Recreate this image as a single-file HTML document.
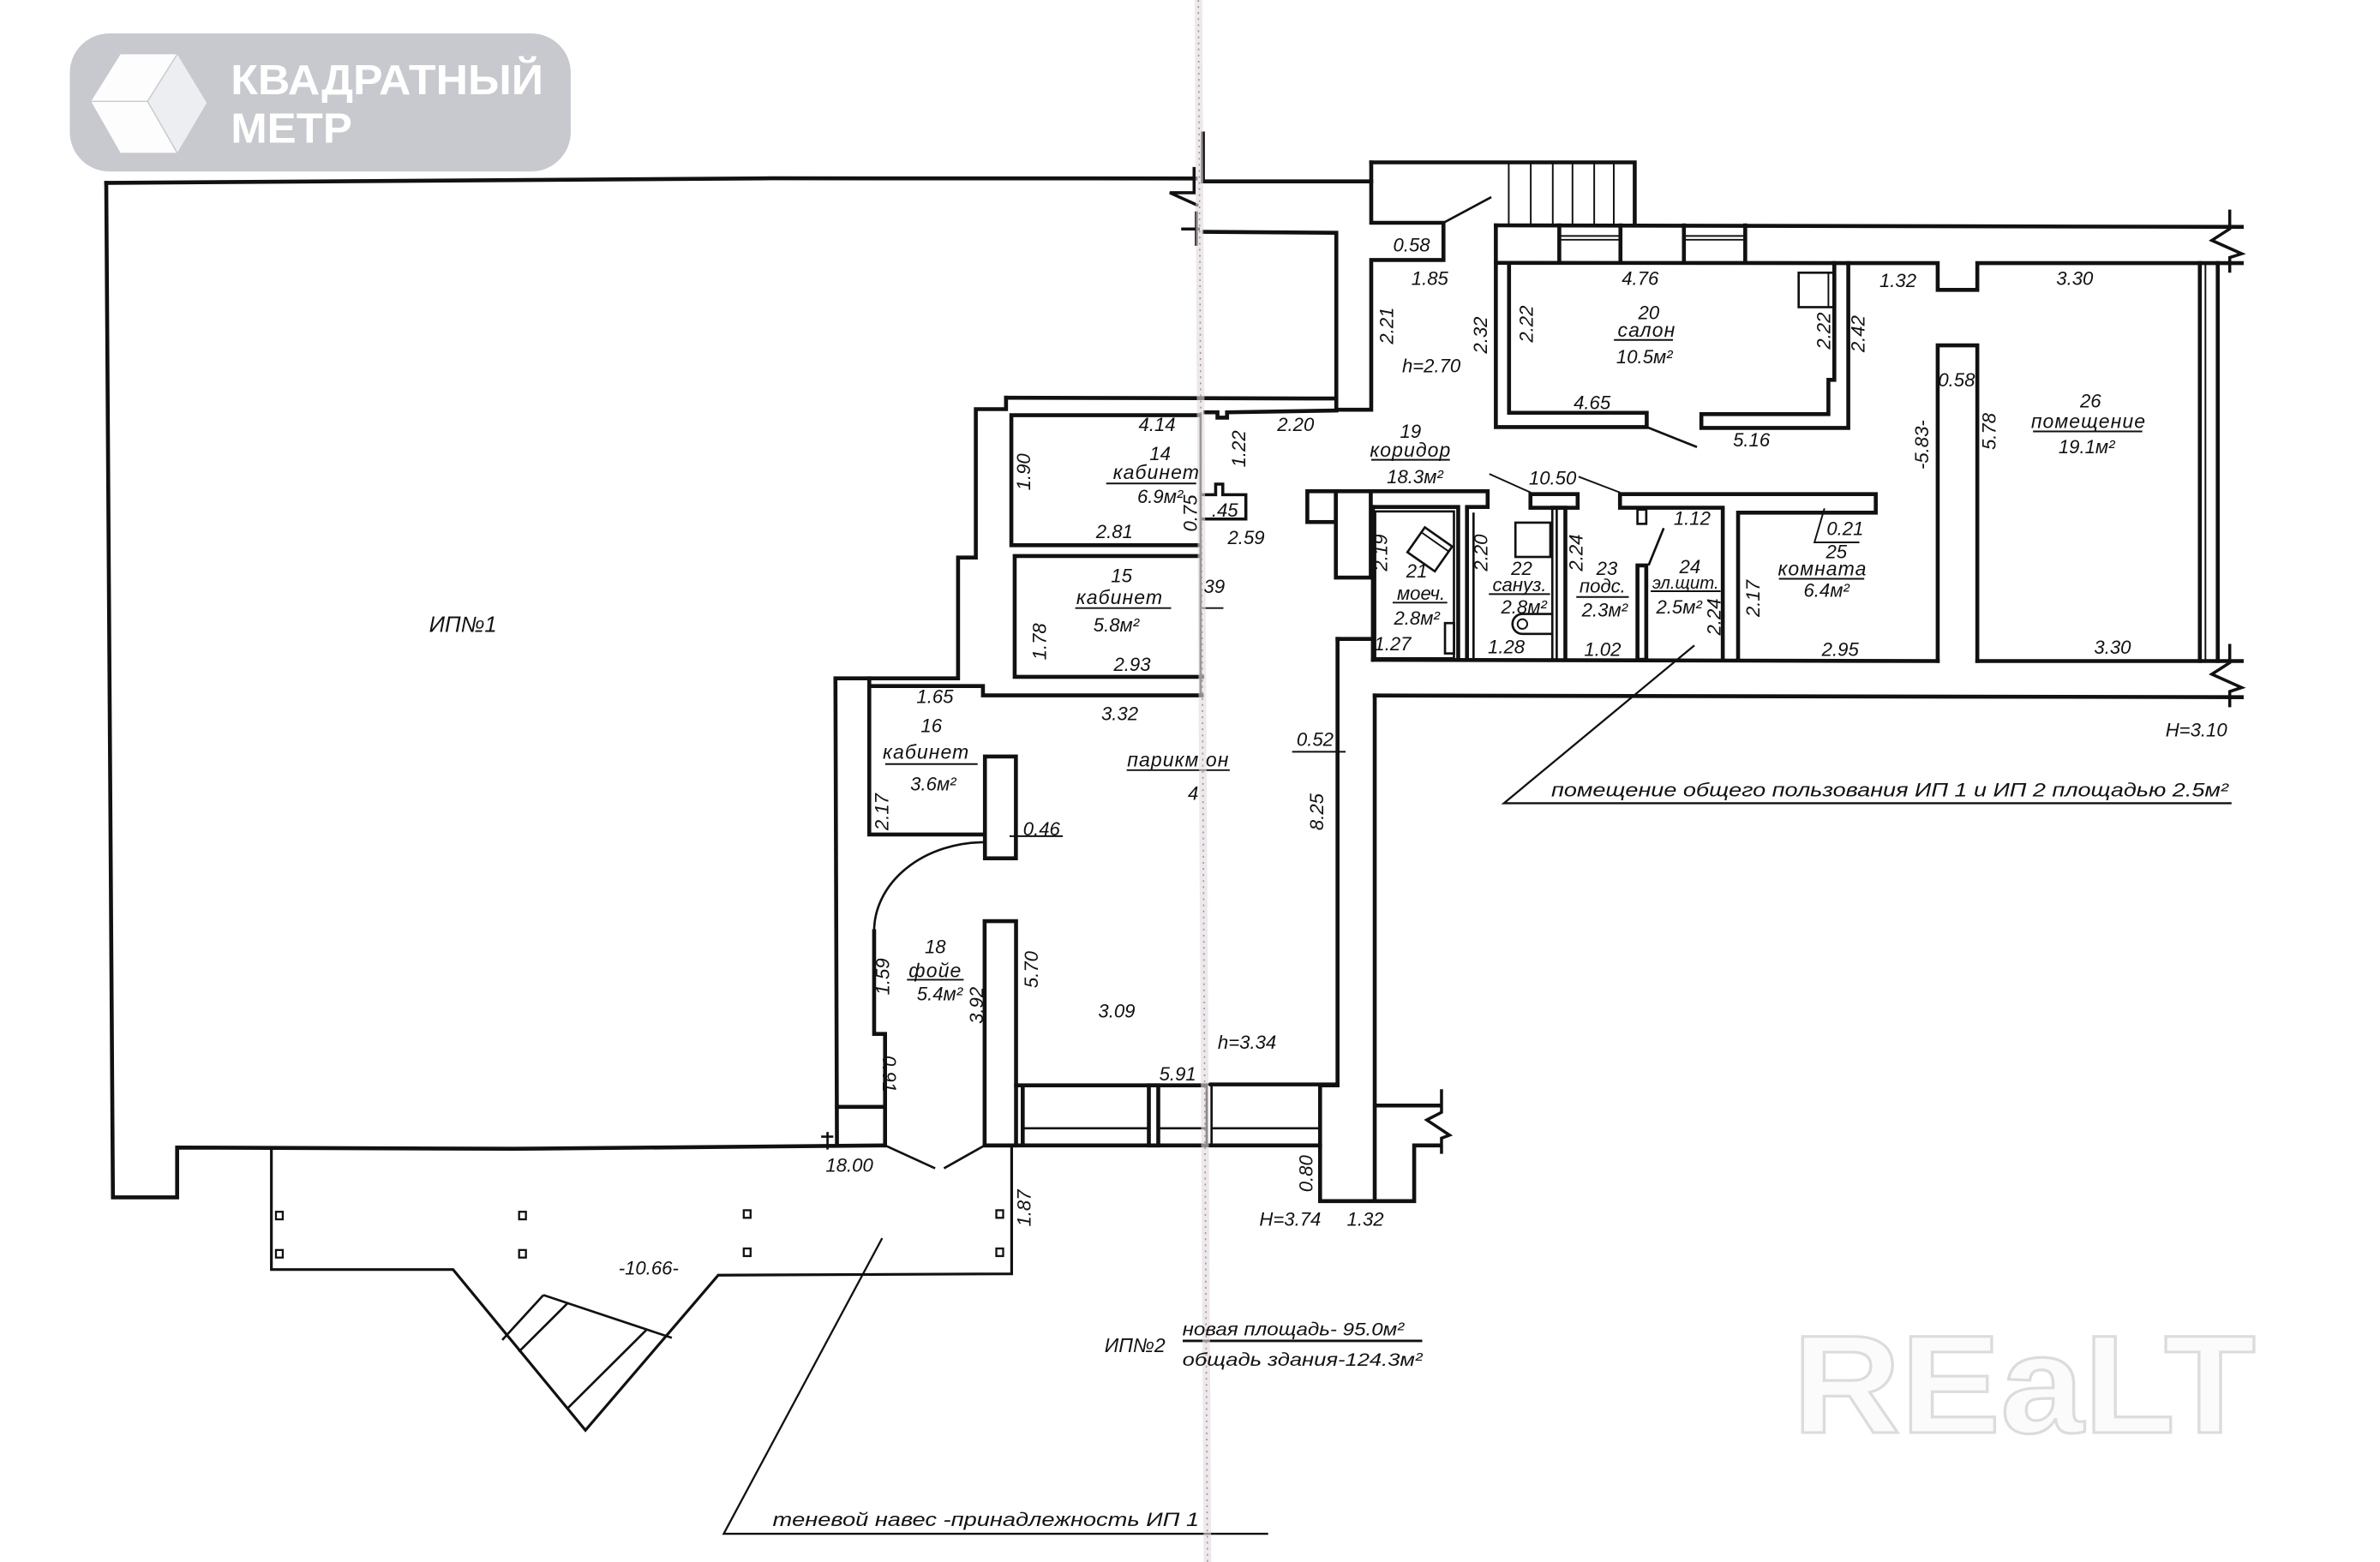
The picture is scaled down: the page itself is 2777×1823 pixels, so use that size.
<!DOCTYPE html>
<html><head><meta charset="utf-8"><style>
html,body{margin:0;padding:0;background:#fff;overflow:hidden}
svg{display:block}
.w{fill:none;stroke:#111;stroke-width:2.6;stroke-linejoin:miter;stroke-linecap:square}
.t{fill:none;stroke:#111;stroke-width:1.5}
.h{fill:none;stroke:#111;stroke-width:1.1}
text{font-family:"Liberation Sans","DejaVu Sans",sans-serif;font-style:italic;fill:#111;font-size:12.5px}
.c{text-anchor:middle;dominant-baseline:central}
.r{font-size:13px;letter-spacing:0.6px}
</style></head><body>
<svg width="2777" height="1823" viewBox="0 0 1568 1029.3" preserveAspectRatio="none" xmlns="http://www.w3.org/2000/svg">
<rect x="0" y="0" width="1568" height="1029.3" fill="#fff"/>

<!-- logo -->
<rect x="46" y="22" width="330" height="91" rx="26" fill="#c7c9ce"/>
<polygon points="79.4,35.8 116.7,35.8 136.1,67.8 116.7,100.7 79.4,100.7 60,66.8" fill="#fdfdfd"/>
<polygon points="116.7,35.8 136.1,67.8 116.7,100.7 97.2,66.8" fill="#eceef1"/>
<path d="M60,66.8 L97.2,66.8 L116.7,35.8 M97.2,66.8 L116.7,100.7" fill="none" stroke="#c7c9ce" stroke-width="0.8"/>
<text x="152" y="62" style="font-style:normal;font-weight:bold;font-size:27.5px;fill:#fff" textLength="206" lengthAdjust="spacingAndGlyphs">КВАДРАТНЫЙ</text>
<text x="152" y="94" style="font-style:normal;font-weight:bold;font-size:27.5px;fill:#fff" textLength="80" lengthAdjust="spacingAndGlyphs">МЕТР</text>

<!-- REALT watermark -->
<text x="1181" y="944" style="font-style:normal;font-weight:bold;font-size:92px;fill:#fbfbfb;stroke:#dcdcdc;stroke-width:1.8" textLength="305" lengthAdjust="spacingAndGlyphs">REaLT</text>

<!-- big left box ИП1 -->
<path class="w" d="M70,120.5 L508,117.5 L787.7,117.6"/>
<path class="w" d="M70,120.5 L74.4,789 L116.7,789 L116.7,756.2 L338.8,757 L583.1,754.8"/>
<!-- break at fold top -->
<path class="t" style="stroke-width:2" d="M786.7,110 L786.7,127 L770.7,127 L789.5,135.5 M788.2,139.3 L788.2,162 M778.2,150.9 L790.5,150.9"/>

<!-- top entrance / stairs -->
<path class="w" d="M792.5,88 L792.5,119.5 L903.4,119.5 M903.4,107 L1077,107 L1077,148.3"/>
<path class="w" d="M903.4,107 L903.4,146.8 L951,146.8 L951,171.3 L903.4,171.3 L903.4,270 L880.4,270 L880.4,153.4 L793.3,152.8"/>
<path class="h" d="M994,107 V148.3 M1008.5,107 V148.3 M1023,107 V148.3 M1036,107 V148.3 M1050.3,107 V148.3 M1063.2,107 V148.3"/>
<path class="t" d="M951,146.8 L982.5,129.9"/>

<!-- top wall band -->
<path class="w" d="M985.5,148.5 L1476.9,149.5"/>
<path class="w" d="M985.5,173.2 L1276.6,173.4 L1276.6,191 L1302.7,191 L1302.7,173.4 L1476.9,173.4"/>
<path class="w" d="M1027.3,148.5 V173.2 M1067.6,148.5 V173.2 M1109.4,148.5 V173.2 M1149.8,148.5 V173.2"/>
<path class="h" d="M1027.3,155.5 H1067.6 M1027.3,158 H1067.6 M1109.4,155.5 H1149.8 M1109.4,158 H1149.8"/>

<!-- salon -->
<path class="w" d="M985.5,148.5 L985.5,281.4 L1084.9,281.4 L1084.9,272 L994.2,272 L994.2,173.2"/>
<path class="w" d="M1208.5,173.4 L1208.5,250.3 L1204.6,250.3 L1204.6,272.9 L1120.9,272.9 L1120.9,282 L1217.7,282 L1217.7,173.4"/>
<path class="t" d="M1084.9,281.4 L1118,294.6"/>
<rect class="t" x="1185" y="179.7" width="23.5" height="22.7"/>
<path class="h" d="M1204.6,179.7 V202.4"/>

<!-- right room 26 -->
<path class="w" d="M1276.6,435.6 L1276.6,227.6 L1302.7,227.6 L1302.7,435.6"/>
<path class="w" d="M904.5,434.8 L1276.6,435.6 M1302.7,435.6 L1476.9,435.6"/>
<path class="w" d="M1449.3,173.4 V435.6 M1461.1,173.4 V435.6"/>
<path class="h" d="M1453,173.4 V435.6"/>
<path class="w" d="M905.7,458.3 L1476.9,459.4"/>
<path class="t" style="stroke-width:2" d="M1469,138.1 L1469,150.8 L1457.2,158.4 L1476.9,167.2 L1469,169.7 L1469,179.7"/>
<path class="t" style="stroke-width:2" d="M1469,424.3 L1469,436.7 L1457.2,444.3 L1476.9,453.1 L1469,455.7 L1469,466"/>

<!-- corridor top walls & small rooms -->
<path class="w" d="M1067.3,334.6 L1067.3,325.6 L1235.8,325.6 L1235.8,337.8 L1145.1,337.8 L1145.1,434.8 M1067.3,334.6 L1135,334.6 L1135,434.8"/>
<rect class="w" x="1008.3" y="325.6" width="31.1" height="9"/>
<path class="w" d="M903.1,323.7 L980.1,323.7 L980.1,334.1 L966.5,334.1 L966.5,434.8 M904.5,334.1 L960.7,334.1 L960.7,434.8"/>
<rect class="t" x="906" y="337" width="51.9" height="96.8"/>
<path class="t" d="M970.8,337.8 V434"/>
<path class="t" d="M1022.7,334.6 V434.8 M1025.6,334.6 V434.8"/>
<path class="w" d="M1022.7,334.6 L1031.3,334.6 L1031.3,434.8"/>
<rect class="w" x="1078.8" y="372.6" width="5.8" height="62.2"/>
<rect class="t" x="1078.8" y="335.8" width="5.8" height="9.4"/>
<path class="t" d="M1096.1,348 L1086.1,372.6"/>
<rect class="w" x="861.3" y="323.7" width="18.8" height="20.3"/>
<rect class="w" x="880.1" y="323.7" width="23" height="56.9"/>
<path class="w" d="M904.5,334.1 L904.5,434.8 M881.2,421 L904.5,421"/>
<!-- fixtures -->
<g transform="rotate(35 942 362)"><rect class="t" x="931" y="352" width="22" height="20"/><path class="h" d="M931,356 H953"/></g>
<rect class="t" x="952" y="410.6" width="6" height="20"/>
<rect class="t" x="998.4" y="344.4" width="23" height="22.6"/>
<path class="t" d="M1022,404.6 L1003,404.6 A6.5,6.5 0 0 0 1003,417.7 L1022,417.7"/>
<circle class="h" cx="1003" cy="411.2" r="3.2"/>

<!-- right corridor / lower right -->
<path class="w" d="M869.7,715.2 L881.2,715.2 L881.2,421"/>
<path class="w" d="M905.7,458.3 L905.7,791.5 M869.7,715.2 L869.7,791.5 L931.7,791.5 L931.7,754.8 L948,754.8 M905.7,728.5 L948,728.5"/>
<path class="t" style="stroke-width:2" d="M949.7,717.8 L949.7,733 L940,738 L955,748 L949.7,750 L949.7,760.3"/>

<!-- storefront -->
<path class="w" d="M669.4,715.2 L793.4,715.2 M797.9,714.6 L881.2,714.6 M673.8,715.2 L673.8,754.8 M648.7,754.8 L869.7,754.8"/>
<path class="t" d="M673.8,743.5 H756.9 M763.1,743.5 H795 M798,743.5 H869.7"/>
<rect class="w" x="756.9" y="715.2" width="6.2" height="39.6"/>
<rect class="t" x="795" y="714.6" width="3.2" height="40.2"/>

<!-- pillars -->
<rect class="w" x="648.9" y="498.5" width="20.4" height="67.1"/>
<rect class="w" x="648.7" y="607" width="20.7" height="147.8"/>

<!-- IP2 left contour & rooms 14,15,16 -->
<path class="w" d="M662.8,262.1 L880.4,262.6"/>
<path class="w" d="M662.8,262.1 L662.8,269.6 L642.9,269.6 L642.9,367.4 L631.2,367.4 L631.2,447 L550.4,447 L551.4,754.8"/>
<path class="w" d="M790.4,273.6 L666.3,273.6 L666.3,359.3 L790.4,359.3"/>
<path class="w" d="M790.4,366.4 L668.5,366.4 L668.5,446 L792,446"/>
<path class="t" style="stroke:#333" d="M791,271.7 V458.2"/>
<path class="w" d="M794,271.7 L802.1,271.7 L802.1,275.2 L808.4,275.2 L808.4,271.7 L880.4,270.5"/>
<path class="w" style="stroke-width:2" d="M792.7,326 L800.9,326 L800.9,319 L805.6,319 L805.6,326 L820.8,326 L820.8,342 L792.7,342"/>
<path class="w" d="M572.7,447 L572.7,549.9 L647.6,549.9 M572.7,452.1 L647.6,452.1 L647.6,458.2 L791.7,458.2"/>

<!-- foyer -->
<path class="w" d="M575.9,613.6 L575.9,681.3 L583.1,681.3 L583.1,754.8 M551.4,729.4 L583.1,729.4"/>
<path class="t" d="M575.9,613.6 A72.6,58.6 0 0 1 648.5,555"/>
<path class="t" d="M583.1,754.8 L616.1,769.9 M621.9,769.9 L648.7,754.8"/>
<path class="t" d="M545.2,745.9 V757.5 M541,749 L549,749"/>

<!-- canopy -->
<path class="t" style="stroke-width:1.8" d="M178.8,756.5 L178.8,836.6 L298.5,836.6 L385.7,942.5 L473.2,840.3 L666.5,839.4 L666.5,754.8"/>
<path class="t" d="M358,853.4 L442.6,881.6 M358,853.4 L330.9,883 M374.2,858.5 L341.8,890.8 M426.4,875.8 L374.2,927.8"/>
<g class="t" style="stroke-width:1.3">
<rect x="181.8" y="798.5" width="4.5" height="5"/><rect x="181.8" y="823.7" width="4.5" height="5"/>
<rect x="342" y="798.5" width="4.5" height="5"/><rect x="342" y="823.7" width="4.5" height="5"/>
<rect x="490" y="797.5" width="4.5" height="5"/><rect x="490" y="822.7" width="4.5" height="5"/>
<rect x="656.4" y="797.5" width="4.5" height="5"/><rect x="656.4" y="822.7" width="4.5" height="5"/>
</g>

<!-- leaders & underlines -->
<path class="h" d="M981.2,312.3 L1008.6,324.6 M1040,314.1 L1067.4,324.6"/>
<path class="h" d="M1202,335 L1195.4,357.4 L1225,357.4"/>
<path class="h" style="stroke-width:1.3" d="M1116.3,425.3 L990.8,529.3 L1470.2,529.3"/>
<path class="h" style="stroke-width:1.3" d="M581.2,815.9 L476.8,1010.7 L835.5,1010.7"/>
<path class="h" style="stroke-width:1.6" d="M779.2,883.6 L937,883.6"/>
<path class="h" d="M851.3,495.4 H886.5 M665.1,551 H700.2 M792,400.7 H806"/>
<path class="h" d="M1063.3,224 H1102.2 M1339.4,284.3 H1411.4 M1172,381.4 H1228.2 M728.8,318.6 H788.1 M708.4,400.7 H771.6 M583.2,503.5 H644.1 M742.3,507.5 H810.2 M903.4,303 H955.2 M917.5,397.1 H953.5 M980.9,391.5 H1021.2 M1038.5,393.4 H1073.1 M1087.5,389.6 H1133.6 M597.5,645.6 H634.9"/>

<!-- fold -->
<line x1="789.5" y1="0" x2="795.5" y2="1029.3" stroke="#e2d9df" stroke-width="5" opacity="0.6"/>
<line x1="789.5" y1="0" x2="795.5" y2="1029.3" stroke="#a3969f" stroke-width="0.9" stroke-dasharray="1.2 2.8"/>

<!-- horizontal labels -->
<g class="c">
<text class="c" x="930" y="161.5">0.58</text>
<text class="c" x="942" y="183.5">1.85</text>
<text class="c" x="943" y="241">h=2.70</text>
<text class="c" x="1080.6" y="183.5">4.76</text>
<text class="c" x="1086.3" y="206">20</text>
<text class="c r" x="1084.9" y="217.3">салон</text>
<text class="c" x="1083.4" y="235.3">10.5м²</text>
<text class="c" x="1048.9" y="265.3">4.65</text>
<text class="c" x="1153.9" y="289.8">5.16</text>
<text class="c" x="1250.4" y="184.8">1.32</text>
<text class="c" x="1366.9" y="183.5">3.30</text>
<text class="c" x="1289" y="250.3">0.58</text>
<text class="c" x="1377.3" y="264.2">26</text>
<text class="c r" x="1376" y="277.5">помещение</text>
<text class="c" x="1374.7" y="294.4">19.1м²</text>
<text class="c" x="1215.6" y="348.5">0.21</text>
<text class="c" x="1209.9" y="363.7">25</text>
<text class="c r" x="1200.7" y="374.5">комната</text>
<text class="c" x="1203.3" y="388.9">6.4м²</text>
<text class="c" x="1212.4" y="428">2.95</text>
<text class="c" x="1391.8" y="426.7">3.30</text>
<text class="c" x="1447" y="481">H=3.10</text>
<text class="c" x="762.3" y="279.7">4.14</text>
<text class="c" x="853.6" y="279.7">2.20</text>
<text class="c" x="764.3" y="298.9">14</text>
<text class="c r" x="761.9" y="311">кабинет</text>
<text class="c" x="764.3" y="327.1">6.9м²</text>
<text class="c" x="807" y="336.1">.45</text>
<text class="c" x="734.2" y="350.3">2.81</text>
<text class="c" x="821" y="354.4">2.59</text>
<text class="c" x="929.3" y="284.2">19</text>
<text class="c r" x="929.3" y="296.4">коридор</text>
<text class="c" x="932.2" y="314.3">18.3м²</text>
<text class="c" x="1022.9" y="315.2">10.50</text>
<text class="c" x="738.9" y="379.5">15</text>
<text class="c r" x="737.7" y="393.6">кабинет</text>
<text class="c" x="735.4" y="411.8">5.8м²</text>
<text class="c" x="800" y="386.5">39</text>
<text class="c" x="745.9" y="438">2.93</text>
<text class="c" x="933.4" y="376.4">21</text>
<text class="c" x="936.2" y="391">моеч.</text>
<text class="c" x="933.4" y="407.5">2.8м²</text>
<text class="c" x="1002.5" y="374.5">22</text>
<text class="c" x="1001.1" y="385.3">сануз.</text>
<text class="c" x="1004" y="400">2.8м²</text>
<text class="c" x="1058.7" y="374.5">23</text>
<text class="c" x="1055.8" y="386.3">подс.</text>
<text class="c" x="1057.2" y="401.9">2.3м²</text>
<text class="c" x="1114.8" y="341.6">1.12</text>
<text class="c" x="1113.4" y="373.6">24</text>
<text class="c" x="1110.5" y="384.4" style="font-size:11.5px">эл.щит.</text>
<text class="c" x="1106.2" y="400">2.5м²</text>
<text class="c" x="917.5" y="424.4">1.27</text>
<text class="c" x="992.4" y="426.3">1.28</text>
<text class="c" x="1055.8" y="428">1.02</text>
<text class="c" x="616" y="459.1">1.65</text>
<text class="c" x="737.7" y="470.2">3.32</text>
<text class="c" x="613.6" y="478.3">16</text>
<text class="c r" x="610.2" y="495.5">кабинет</text>
<text class="c" x="614.8" y="516.6">3.6м²</text>
<text class="c" x="686.2" y="546.2">0.46</text>
<text class="c" x="866.4" y="487.4">0.52</text>
<text class="c r" x="776.3" y="500.5">парикм он</text>
<text class="c" x="786.1" y="522.8">4</text>
<text class="c" x="616.2" y="623.9">18</text>
<text class="c r" x="616.2" y="639.4">фойе</text>
<text class="c" x="619.1" y="655.1">5.4м²</text>
<text class="c" x="735.7" y="666.2">3.09</text>
<text class="c" x="821.6" y="687">h=3.34</text>
<text class="c" x="775.9" y="707.7">5.91</text>
<text class="c" x="559.6" y="767.9">18.00</text>
<text class="c" x="850" y="803.5">H=3.74</text>
<text class="c" x="899.5" y="803.5">1.32</text>
<text class="c" x="427.3" y="835.7">-10.66-</text>
<text class="c" x="305" y="412" style="font-size:14.5px">ИП№1</text>
<text class="c" x="747.7" y="886.5" style="font-size:13px">ИП№2</text>
</g>
<text x="779" y="880" style="font-size:12px" textLength="146" lengthAdjust="spacingAndGlyphs">новая площадь- 95.0м²</text>
<text x="779" y="900" style="font-size:12px" textLength="158" lengthAdjust="spacingAndGlyphs">общадь здания-124.3м²</text>
<text x="509" y="1005.5" style="font-size:12.5px" textLength="281" lengthAdjust="spacingAndGlyphs">теневой навес -принадлежность ИП 1</text>
<text x="1022" y="524.8" style="font-size:12.5px" textLength="446" lengthAdjust="spacingAndGlyphs">помещение общего пользования ИП 1 и ИП 2 площадью 2.5м²</text>

<!-- vertical labels -->
<g>
<text class="c" x="913.6" y="214.6" transform="rotate(-90 913.6 214.6)">2.21</text>
<text class="c" x="975.5" y="220.8" transform="rotate(-90 975.5 220.8)">2.32</text>
<text class="c" x="1005.6" y="213.5" transform="rotate(-90 1005.6 213.5)">2.22</text>
<text class="c" x="1201.5" y="218" transform="rotate(-90 1201.5 218)">2.22</text>
<text class="c" x="1224.2" y="220" transform="rotate(-90 1224.2 220)">2.42</text>
<text class="c" x="1266.3" y="293.1" transform="rotate(-90 1266.3 293.1)">-5.83-</text>
<text class="c" x="1310.6" y="284.3" transform="rotate(-90 1310.6 284.3)">5.78</text>
<text class="c" x="816.1" y="295.8" transform="rotate(-90 816.1 295.8)">1.22</text>
<text class="c" x="674.5" y="311" transform="rotate(-90 674.5 311)">1.90</text>
<text class="c" x="784.2" y="338.2" transform="rotate(-90 784.2 338.2)">0.75</text>
<text class="c" x="684.8" y="422.8" transform="rotate(-90 684.8 422.8)">1.78</text>
<text class="c" x="909.7" y="364.2" transform="rotate(-90 909.7 364.2)">2.19</text>
<text class="c" x="975.7" y="364.2" transform="rotate(-90 975.7 364.2)">2.20</text>
<text class="c" x="1038.5" y="364.2" transform="rotate(-90 1038.5 364.2)">2.24</text>
<text class="c" x="1129.2" y="406.5" transform="rotate(-90 1129.2 406.5)">2.24</text>
<text class="c" x="1155.1" y="394.4" transform="rotate(-90 1155.1 394.4)">2.17</text>
<text class="c" x="580.9" y="535" transform="rotate(-90 580.9 535)">2.17</text>
<text class="c" x="867.6" y="535" transform="rotate(-90 867.6 535)">8.25</text>
<text class="c" x="581.6" y="643.6" transform="rotate(-90 581.6 643.6)">1.59</text>
<text class="c" x="643.5" y="662.5" transform="rotate(-90 643.5 662.5)">3.92</text>
<text class="c" x="679.5" y="638.9" transform="rotate(-90 679.5 638.9)">5.70</text>
<text class="c" x="860.4" y="773.4" transform="rotate(-90 860.4 773.4)">0.80</text>
<text class="c" x="674.8" y="796.1" transform="rotate(-90 674.8 796.1)">1.87</text>
<text class="c" x="585.9" y="707.7" transform="rotate(90 585.9 707.7)">0.91</text>
</g>
</svg>
</body></html>
